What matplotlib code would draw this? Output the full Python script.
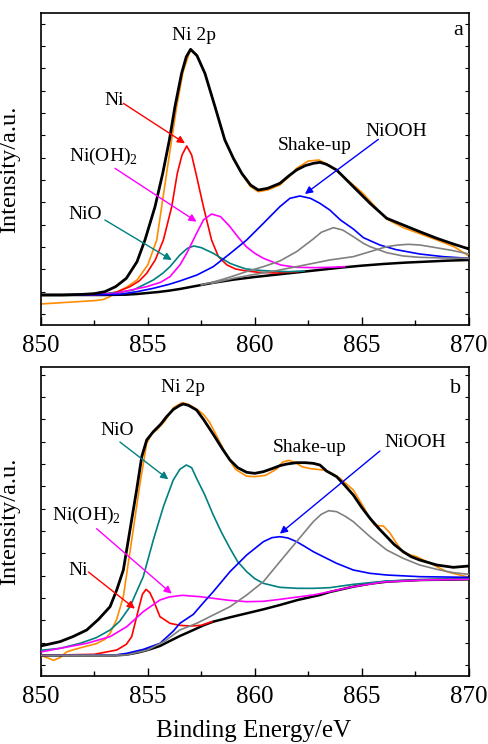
import numpy as np
import matplotlib
matplotlib.use('Agg')
import matplotlib.pyplot as plt
from matplotlib.ticker import MultipleLocator, FixedLocator, NullFormatter

plt.rcParams['font.family'] = ['Liberation Serif', 'DejaVu Serif']
plt.rcParams['mathtext.fontset'] = 'custom'
plt.rcParams['mathtext.rm'] = 'Liberation Serif'

# ---------------- panel a ----------------
be_a_raw = [850, 850.5, 851, 851.5, 852, 852.5, 852.9, 853.2, 853.5, 854, 854.5, 855, 855.42, 855.88,
            856.35, 856.65, 857.0, 857.3, 857.67, 858.14, 858.6, 859.0, 859.39, 859.8, 860.16, 860.6,
            861.17, 861.6, 861.95, 862.5, 863.0, 863.5, 863.82, 864.2, 864.6, 865.0, 865.38, 865.8,
            866.16, 866.93, 867.7, 868.5, 869.3, 870]
int_a_raw = [63, 65, 67, 69, 71, 73, 76, 84, 97, 113, 135, 180, 255, 455,
             655, 760, 827, 810, 755, 655, 555, 497, 453, 415, 400, 405,
             420, 445, 470, 492, 495, 478, 462, 442, 420, 398, 372, 342,
             318, 292, 274, 255, 235, 207]

be_a_env = [850, 851, 852, 852.5, 853, 853.5, 854, 854.5, 854.87, 855.34, 855.7, 856.01, 856.27, 856.58,
            856.8, 857.0, 857.3, 857.67, 858.14, 858.6, 859.0, 859.39, 859.8, 860.16, 860.6, 861.17,
            861.6, 861.95, 862.35, 862.73, 863.04, 863.35, 863.82, 864.6, 865.38, 866.16, 866.93,
            867.7, 868.5, 869.27, 870]
int_a_env = [90, 90, 92, 94, 100, 115, 140, 190, 255, 355, 455, 555, 655, 755,
             805, 827, 808, 755, 655, 555, 500, 455, 420, 405, 410, 425,
             448, 465, 478, 485, 488, 482, 465, 415, 365, 320, 300,
             280, 260, 243, 228]

be_a_ni = [850, 852, 853, 853.6, 854.17, 854.6, 854.95, 855.35, 855.73, 856.12, 856.38, 856.6, 856.82,
           857.05, 857.25, 857.6, 857.98, 858.3, 858.7, 859.1, 859.6, 860.2, 861, 862]
int_a_ni = [90, 90, 92, 100, 115, 132, 155, 195, 255, 355, 455, 510, 537,
            510, 455, 355, 255, 205, 180, 168, 162, 158, 156, 160]

be_a_nio = [850, 852, 853, 853.7, 854.33, 855.26, 855.7, 856.04, 856.5, 856.85, 857.15, 857.5, 858.06,
            858.5, 858.84, 859.3, 859.6, 860.2, 860.9, 861.6, 862.3]
int_a_nio = [90, 91, 94, 98, 105, 135, 155, 175, 210, 230, 237, 232, 215,
             198, 185, 174, 168, 164, 161, 160, 162]

be_a_oh = [850, 852, 853.5, 854.95, 855.6, 856.04, 856.5, 856.82, 857.28, 857.6, 857.98, 858.4, 858.84,
           859.2, 859.6, 860.0, 860.4, 861.2, 861.95, 862.8, 863.5, 864.2]
int_a_oh = [90, 90, 95, 115, 128, 145, 180, 215, 275, 315, 333, 325, 295,
            265, 235, 215, 200, 180, 173, 172, 173, 175]

be_a_ooh = [850, 852, 853.7, 854.5, 855.26, 856.0, 856.5, 857.3, 858.06, 858.8, 859.62, 860.4, 861.17,
            861.64, 862.1, 862.6, 863.04, 863.5, 864.0, 864.6, 865.07, 865.84, 866.6, 867.7, 868.8, 870]
int_a_ooh = [90, 90, 92, 100, 110, 122, 132, 150, 175, 212, 255, 305, 355,
             380, 387, 380, 365, 345, 315, 288, 262, 240, 226, 213, 205, 200]

be_a_sat1 = [857.5, 858, 858.5, 859, 859.6, 860.4, 861.17, 861.95, 862.73, 863.1, 863.67, 864.1, 864.6,
             865.07, 865.38, 866.16, 866.93, 867.7, 868.8, 870]
int_a_sat1 = [120, 128, 137, 147, 160, 175, 192, 220, 258, 278, 292, 285, 265,
              245, 235, 217, 207, 203, 201, 200]

be_a_sat2 = [858, 859, 860, 861, 861.95, 863.5, 864.6, 865.38, 866.16, 866.7, 867.17, 867.7, 868.18,
             869.27, 870]
int_a_sat2 = [125, 140, 152, 163, 175, 195, 205, 220, 235, 240, 242, 240, 235,
              223, 213]

be_a_bg = [850, 853, 854, 854.5, 855, 855.5, 856, 856.5, 857, 857.5, 858, 858.5, 859, 859.5, 860, 861,
           862, 863, 864, 865, 866, 867, 868, 869, 870]
int_a_bg = [90, 90, 91, 93, 96, 99, 103, 108, 114, 120, 126, 131, 136, 140, 144, 151,
            158, 165, 172, 178, 183, 187, 190, 193, 195]

# ---------------- panel b ----------------
be_b_raw = [850, 850.3, 850.6, 850.9, 851.2, 851.6, 852.0, 852.6, 853.0, 853.24, 853.55, 853.86, 854.25,
            854.64, 854.95, 855.2, 855.42, 855.8, 856.2, 856.6, 856.9, 857.3, 857.6, 857.9, 858.3,
            858.7, 859.1, 859.6, 860.0, 860.5, 861.0, 861.3, 861.6, 861.9, 862.2, 862.6, 862.9,
            863.2, 863.6, 864.0, 864.6, 865.07, 865.4, 865.6, 866.0, 866.3, 866.6, 866.93, 867.55,
            868.2, 868.96, 870]
int_b_raw = [62, 55, 47, 55, 72, 80, 87, 97, 110, 128, 170, 238, 408,
             578, 698, 728, 738, 765, 805, 820, 815, 800, 785, 760, 710,
             660, 620, 600, 598, 602, 620, 642, 647, 640, 628, 622, 620,
             618, 608, 592, 558, 508, 470, 452, 450, 430, 400, 370, 358,
             338, 313, 296]

be_b_env = [850, 850.9, 851.5, 852.15, 852.7, 853.24, 853.55, 853.86, 854.17, 854.48, 854.72, 854.95,
            855.26, 855.6, 855.88, 856.2, 856.5, 856.66, 856.9, 857.28, 857.6, 858.06, 858.5, 858.84,
            859.2, 859.62, 860.0, 860.4, 860.8, 861.17, 861.5, 861.95, 862.35, 862.73, 863.04, 863.35,
            863.82, 864.2, 864.6, 865.0, 865.38, 865.8, 866.16, 866.5, 866.93, 867.3, 867.7, 868.5,
            869.27, 870]
int_b_env = [90, 103, 118, 138, 170, 208, 258, 318, 438, 558, 658, 708,
             733, 755, 778, 800, 812, 816, 812, 798, 770, 725, 680, 648,
             625, 611, 608, 613, 622, 631, 636, 640, 640, 638, 633, 615,
             598, 572, 543, 505, 473, 442, 418, 395, 373, 358, 348, 333,
             326, 330]

be_b_nio = [850, 850.9, 851.84, 852.6, 853.24, 853.7, 854.17, 854.79, 855.26, 855.73, 856.19, 856.5,
            856.8, 857.05, 857.28, 857.65, 858.06, 858.45, 858.84, 859.2, 859.62, 860.0, 860.4, 861.17,
            862.0, 862.73, 863.5, 864.6, 866.16, 868, 870]
int_b_nio = [77, 83, 98, 115, 138, 165, 208, 298, 408, 508, 588, 620,
             633, 625, 593, 545, 483, 430, 383, 343, 313, 292, 278, 266,
             263, 263, 265, 275, 285, 289, 292]

be_b_ni = [850, 852.5, 853.55, 854.0, 854.25, 854.56, 854.75, 854.92, 855.1, 855.26, 855.57, 856.04,
           856.5, 857.0, 857.5, 858.0]
int_b_ni = [62, 65, 78, 95, 118, 198, 245, 260, 250, 228, 178, 158,
            152, 150, 152, 163]

be_b_oh = [850, 850.9, 852.15, 853.24, 854.02, 854.79, 855.57, 856.0, 856.6, 857.44, 858.06, 858.8,
           859.62, 860.4, 861.17, 862.0, 862.73, 863.5, 864.6, 866, 868, 870]
int_b_oh = [72, 83, 98, 118, 148, 193, 228, 237, 242, 238, 233, 227,
            223, 224, 230, 237, 243, 253, 268, 282, 288, 290]

be_b_ooh = [850, 853.5, 854.02, 854.8, 855.57, 856.2, 856.5, 857.13, 857.6, 858.06, 858.45, 858.84,
            859.62, 860.4, 860.8, 861.17, 861.55, 861.95, 862.35, 862.73, 863.04, 863.82, 864.6,
            865.38, 866.16, 867.7, 870]
int_b_ooh = [62, 63, 68, 80, 98, 135, 158, 185, 220, 253, 283, 313,
             363, 403, 415, 418, 414, 403, 388, 373, 363, 338, 318,
             308, 303, 298, 296]

be_b_sat = [850, 854, 855, 855.8, 856.5, 857.28, 858.06, 858.84, 859.62, 860.4, 861.17, 861.95, 862.73,
            863.1, 863.45, 863.82, 864.2, 864.6, 865.38, 866.16, 866.93, 867.7, 868.5, 869.27, 870]
int_b_sat = [62, 63, 78, 105, 138, 158, 183, 208, 243, 283, 343, 403, 463,
             485, 496, 493, 480, 463, 418, 378, 353, 333, 320, 310, 305]

be_b_bg = [850, 853.5, 854.0, 854.5, 855.0, 855.57, 856.0, 856.5, 857.13, 857.6, 858.06, 858.84, 859.62,
           860.4, 861.17, 862.0, 863.04, 863.5, 864.6, 865.4, 866.16, 867.7, 870]
int_b_bg = [62, 62, 64, 70, 78, 90, 104, 120, 138, 152, 163, 176, 188,
            200, 213, 228, 243, 252, 268, 277, 283, 288, 290]

RED, MAG, TEAL, BLUE, GRAY, ORANGE = '#ff0000', '#ff00ff', '#008080', '#0000ff', '#808080', '#ff8c00'

fig = plt.figure(figsize=(4.89, 7.44), dpi=100)
ax_a = fig.add_axes([0.0832, 0.5632, 0.8758, 0.4193])
ax_b = fig.add_axes([0.0832, 0.0914, 0.8758, 0.4153])


def draw_panel(ax, raw, env, comps, sat, bg, ymax):
    ax.plot(raw[0], raw[1], color=ORANGE, lw=1.2, zorder=2)
    for x, y, c in comps:
        ax.plot(x, y, color=c, lw=1.2, zorder=3)
    for x, y in sat:
        ax.plot(x, y, color=GRAY, lw=1.2, zorder=3)
    ax.plot(bg[0], bg[1], color='black', lw=1.8, zorder=2.5)
    ax.plot(env[0], env[1], color='black', lw=2.0, zorder=4)
    ax.set_xlim(850, 870)
    ax.set_ylim(0, ymax)
    ax.xaxis.set_major_locator(MultipleLocator(5))
    ax.xaxis.set_minor_locator(MultipleLocator(2.5))
    ax.yaxis.set_major_locator(FixedLocator(np.arange(33, ymax, 67)))
    ax.yaxis.set_major_formatter(NullFormatter())
    ax.tick_params(axis='x', which='major', direction='in', length=6, width=1.0,
                   labelsize=18, pad=7, top=False)
    ax.tick_params(axis='x', which='minor', direction='in', length=3.5, width=1.0, top=False)
    ax.tick_params(axis='y', which='major', direction='in', length=3, width=0.8,
                   left=True, right=True)
    for s in ax.spines.values():
        s.set_linewidth(1.2)
    ax.set_ylabel('Intensity/a.u.', fontsize=17.5)
    ax.yaxis.set_label_coords(-0.048, 0.5)


draw_panel(ax_a, (be_a_raw, int_a_raw), (be_a_env, int_a_env),
           [(be_a_ni, int_a_ni, RED), (be_a_nio, int_a_nio, TEAL),
            (be_a_oh, int_a_oh, MAG), (be_a_ooh, int_a_ooh, BLUE)],
           [(be_a_sat1, int_a_sat1), (be_a_sat2, int_a_sat2)],
           (be_a_bg, int_a_bg), 936)

draw_panel(ax_b, (be_b_raw, int_b_raw), (be_b_env, int_b_env),
           [(be_b_ni, int_b_ni, RED), (be_b_nio, int_b_nio, TEAL),
            (be_b_oh, int_b_oh, MAG), (be_b_ooh, int_b_ooh, BLUE)],
           [(be_b_sat, int_b_sat)],
           (be_b_bg, int_b_bg), 927)

OH2 = 'Ni(OH)$_\\mathregular{2}$'


def label(ax, text, pos, tail=None, head=None, color='black'):
    ax.text(pos[0], pos[1], text, fontsize=14, ha='center', va='center', zorder=6)
    if tail is not None:
        ax.annotate('', xy=head, xytext=tail, zorder=6,
                    arrowprops=dict(arrowstyle='-|>', color=color, lw=1.0,
                                    mutation_scale=11, shrinkA=0, shrinkB=0))


label(ax_a, 'Ni 2p', (857.16, 870))
label(ax_a, 'Ni', (853.42, 675), (853.86, 665), (856.74, 545), RED)
label(ax_a, OH2, (852.93, 505), (853.47, 470), (857.28, 310), MAG)
label(ax_a, 'NiO', (852.07, 330), (853.0, 315), (856.12, 195), TEAL)
label(ax_a, 'Shake-up', (862.81, 540))
label(ax_a, 'NiOOH', (866.62, 582), (865.77, 557), (862.34, 393), BLUE)
ax_a.text(869.5, 885, 'a', fontsize=16, ha='center', va='center')

label(ax_b, 'Ni 2p', (856.66, 867))
label(ax_b, 'NiO', (853.58, 737), (853.7, 702), (855.96, 590), TEAL)
label(ax_b, 'Shake-up', (862.58, 687))
label(ax_b, 'NiOOH', (867.48, 702), (865.84, 675), (861.17, 427), BLUE)
label(ax_b, OH2, (852.15, 482), (852.61, 442), (856.12, 247), MAG)
label(ax_b, 'Ni', (851.76, 317), (852.23, 312), (854.4, 202), RED)
ax_b.text(869.39, 862, 'b', fontsize=16, ha='center', va='center')

fig.text(0.518, 0.003, 'Binding Energy/eV', fontsize=18, ha='center', va='bottom')

fig.savefig('out.png', dpi=100)
